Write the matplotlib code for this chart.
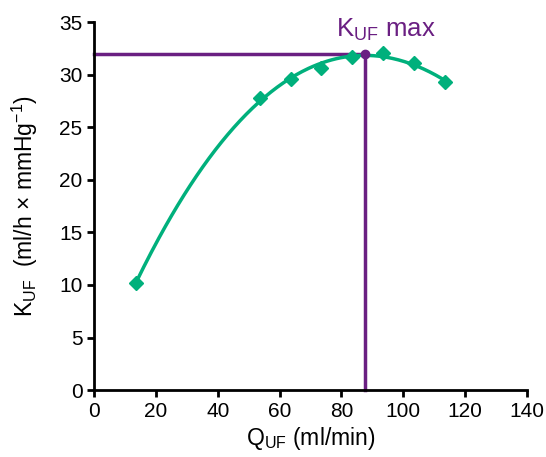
import numpy as np
import matplotlib
matplotlib.use("Agg")
import matplotlib.pyplot as plt

# measured points
q_uf = [13.5, 53.5, 63.5, 73.5, 83.5, 93.5, 103.5, 113.5]
k_uf = [10.2, 27.8, 29.6, 30.7, 31.7, 32.1, 31.1, 29.3]

# maximum marker
q_max = 87.6
k_max = 32.0

x_ticks = [0, 20, 40, 60, 80, 100, 120, 140]
y_ticks = [0, 5, 10, 15, 20, 25, 30, 35]

GREEN = "#00b07c"
PURPLE = "#6a1f82"

plt.rcParams['font.family'] = ['Liberation Sans', 'DejaVu Sans']
plt.rcParams['mathtext.fontset'] = 'custom'
plt.rcParams['mathtext.rm'] = 'Liberation Sans'

fig = plt.figure(figsize=(5.46, 4.57), dpi=100)
ax = fig.add_axes([0.1727, 0.1466, 0.7923, 0.8042])

# polynomial trendline (like excel)
coef = np.polyfit(q_uf, k_uf, 3)
xs = np.linspace(min(q_uf), max(q_uf), 200)
ax.plot(xs, np.polyval(coef, xs), color=GREEN, lw=2.5, zorder=3)
ax.plot(q_uf, k_uf, ls='none', marker='D', ms=7.5, color=GREEN, zorder=4)

ax.plot([0, q_max], [k_max, k_max], color=PURPLE, lw=2.5, zorder=2, clip_on=False)
ax.plot([q_max, q_max], [0, k_max], color=PURPLE, lw=2.5, zorder=2, clip_on=False)
ax.plot([q_max], [k_max], 'o', color=PURPLE, ms=6, zorder=5)
ax.text(94.5, 34.3, r'K$_{\mathregular{UF}}$ max', color=PURPLE, fontsize=18.5,
        ha='center', va='center')

ax.set_xlim(0, 140)
ax.set_ylim(0, 35)
ax.set_xticks(x_ticks)
ax.set_yticks(y_ticks)
ax.spines['top'].set_visible(False)
ax.spines['right'].set_visible(False)
for s in ['left', 'bottom']:
    ax.spines[s].set_linewidth(2)
ax.tick_params(direction='out', length=5, width=2, labelsize=15)

ax.set_xlabel(r'Q$_{\mathregular{UF}}$ (ml/min)', fontsize=16.5, labelpad=3)
ax.set_ylabel(r'K$_{\mathregular{UF}}$  (ml/h × mmHg$^{\mathregular{-1}}$)', fontsize=16.5, labelpad=14)

fig.savefig('out.png', dpi=100)
